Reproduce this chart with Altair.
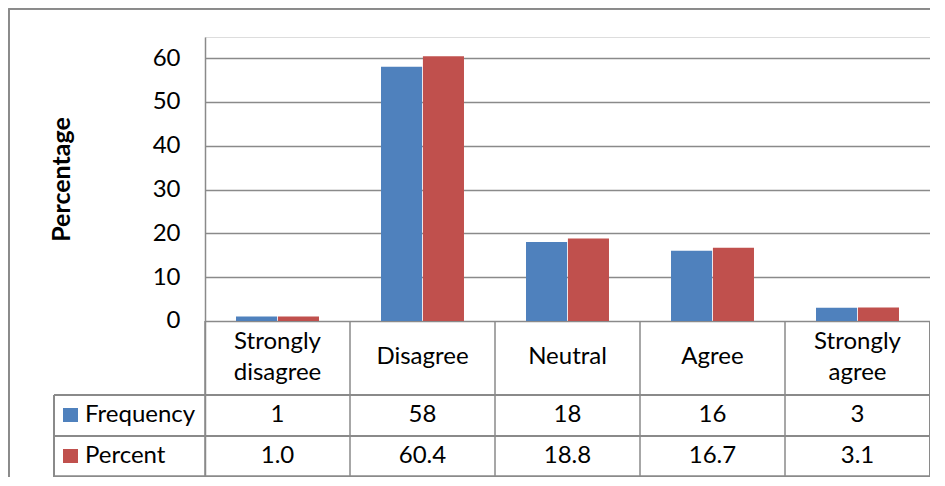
import altair as alt
import pandas as pd

categories = ["Strongly disagree", "Disagree", "Neutral", "Agree", "Strongly agree"]
series = ["Frequency", "Percent"]
frequency = [1, 58, 18, 16, 3]
percent = [1.0, 60.4, 18.8, 16.7, 3.1]
y_ticks = [0, 10, 20, 30, 40, 50, 60]
colors = ["#4F81BD", "#C0504D"]

FONT = "Lato"
GRID = "#8a8a8a"

bars_df = pd.DataFrame({
    "cat": categories * 2,
    "series": [series[0]] * len(categories) + [series[1]] * len(categories),
    "value": frequency + percent,
})
table_df = pd.DataFrame({
    "cat": categories,
    "disp": [c.replace(" ", "\n") for c in categories],
    "freq": [str(v) for v in frequency],
    "pct": [f"{v:.1f}" for v in percent],
})
hdr_df = pd.DataFrame({"series": series})

x_enc = alt.X("cat:N", sort=categories,
              scale=alt.Scale(paddingInner=0, paddingOuter=0), axis=None)

bars = alt.Chart(bars_df).mark_bar().encode(
    x=x_enc,
    xOffset=alt.XOffset("series:N", sort=series,
                        scale=alt.Scale(paddingInner=0.02, paddingOuter=0.74)),
    y=alt.Y("value:Q",
            scale=alt.Scale(domain=[-35.6, 64.8], nice=False, zero=False),
            axis=alt.Axis(values=y_ticks, grid=True, gridColor=GRID, gridWidth=1.5,
                          ticks=False, domainColor=GRID, domainWidth=1.5,
                          labelFont=FONT, labelFontSize=24, labelColor="black",
                          labelPadding=25,
                          title="Percentage", titleFont=FONT, titleFontSize=25,
                          titleFontWeight="bold", titleColor="black",
                          titleX=-144, titleY=142, titleAngle=-90,
                          titleAlign="center", titleBaseline="middle")),
    color=alt.Color("series:N", scale=alt.Scale(domain=series, range=colors), legend=None),
)

# table structure
def rule(**enc):
    return alt.Chart(table_df).mark_rule(color=GRID, strokeWidth=1.5).encode(**enc)

cat_lines = rule(
    x=alt.X("cat:N", sort=categories, bandPosition=0,
            scale=alt.Scale(paddingInner=0, paddingOuter=0), axis=None),
    y=alt.value(284), y2=alt.value(440),
)
right_line = rule(x=alt.value(725), y=alt.value(284), y2=alt.value(440))
hdr_left = rule(x=alt.value(-151), y=alt.value(358), y2=alt.value(440))
h1 = rule(x=alt.value(-151), x2=alt.value(725), y=alt.value(358))
h2 = rule(x=alt.value(-151), x2=alt.value(725), y=alt.value(399))
h3 = rule(x=alt.value(-151), x2=alt.value(725), y=alt.value(439.5))

# outer chart border (left and top visible)
border_l = rule(x=alt.value(-196.2), y=alt.value(-28.2), y2=alt.value(460))
border_t = rule(x=alt.value(-196.2), x2=alt.value(760), y=alt.value(-28.2))

is_multi = "indexof(datum.disp, '\\n') >= 0"
cat_text1 = alt.Chart(table_df).transform_filter(is_multi).mark_text(
    font=FONT, fontSize=24, color="black", lineBreak="\n", lineHeight=31,
    baseline="middle", align="center").encode(
    x=x_enc, text="disp:N", y=alt.value(305))
cat_text2 = alt.Chart(table_df).transform_filter("!(" + is_multi + ")").mark_text(
    font=FONT, fontSize=24, color="black",
    baseline="middle", align="center").encode(
    x=x_enc, text="disp:N", y=alt.value(320))
freq_text = alt.Chart(table_df).mark_text(
    font=FONT, fontSize=24, color="black", baseline="middle", align="center").encode(
    x=x_enc, text="freq:N", y=alt.value(378))
pct_text = alt.Chart(table_df).mark_text(
    font=FONT, fontSize=24, color="black", baseline="middle", align="center").encode(
    x=x_enc, text="pct:N", y=alt.value(419))

hdr_freq = alt.Chart(hdr_df).transform_filter(alt.datum.series == series[0]).mark_text(
    font=FONT, fontSize=24, color="black", baseline="middle", align="left").encode(
    x=alt.value(-120), y=alt.value(378), text="series:N")
hdr_pct = alt.Chart(hdr_df).transform_filter(alt.datum.series == series[1]).mark_text(
    font=FONT, fontSize=24, color="black", baseline="middle", align="left").encode(
    x=alt.value(-120), y=alt.value(419), text="series:N")
sq_freq = alt.Chart(hdr_df).transform_filter(alt.datum.series == series[0]).mark_rect(
    color=colors[0]).encode(x=alt.value(-142), x2=alt.value(-127),
                             y=alt.value(371), y2=alt.value(385))
sq_pct = alt.Chart(hdr_df).transform_filter(alt.datum.series == series[1]).mark_rect(
    color=colors[1]).encode(x=alt.value(-142), x2=alt.value(-127),
                             y=alt.value(412), y2=alt.value(426))

chart = alt.layer(
    bars, cat_lines, right_line, hdr_left, h1, h2, h3, border_l, border_t,
    cat_text1, cat_text2, freq_text, pct_text, hdr_freq, hdr_pct, sq_freq, sq_pct,
).properties(
    width=725, height=440,
    autosize=alt.AutoSizeParams(type="none"),
    padding={"left": 197, "top": 29, "right": 0, "bottom": 0},
).configure_view(strokeWidth=0).configure(background="white")

chart.save("out.html", embed_options={"renderer": "svg", "actions": False})
